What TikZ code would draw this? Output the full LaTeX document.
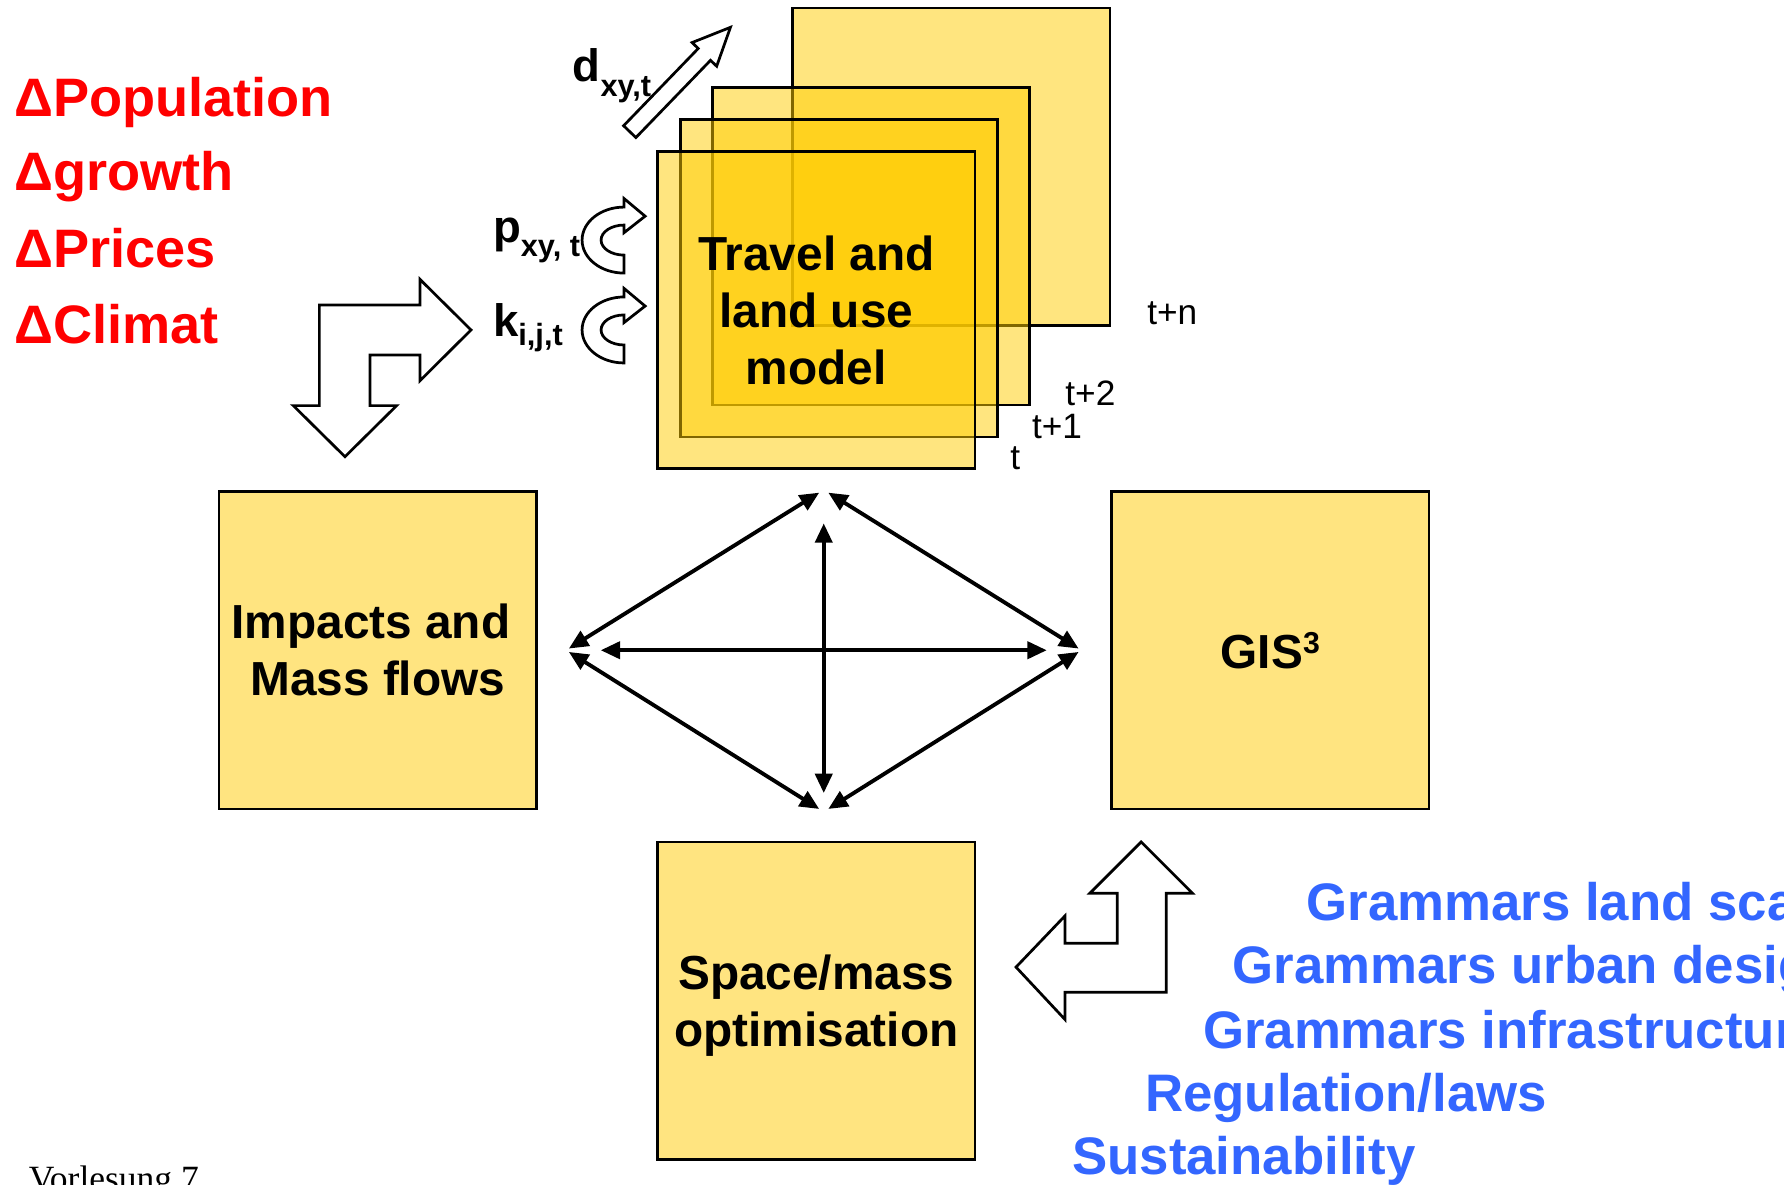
\documentclass[tikz,border=0pt]{standalone}
\usepackage{fontspec}
\setmainfont{Liberation Sans}
\newfontfamily\lectfont{Liberation Serif}
\usetikzlibrary{arrows.meta}

\definecolor{boxfill}{HTML}{FFE480}
\definecolor{layerfill}{HTML}{FFCC00}
\definecolor{driverred}{HTML}{FF0000}
\definecolor{rulesblue}{HTML}{3366FF}

\tikzset{
  panel/.style={draw=black, line width=1.2pt, minimum width=139.5pt,
    minimum height=139.5pt, inner sep=0pt, align=center,
    font=\fontsize{21}{25}\selectfont\bfseries},
  solidpanel/.style={panel, fill=boxfill},
  layer/.style={panel, fill=layerfill, fill opacity=0.5, text opacity=1},
  layertag/.style={anchor=base west, inner sep=0pt,
    font=\fontsize{15.5}{18}\selectfont},
  driver/.style={anchor=base west, inner sep=0pt, text=driverred,
    font=\fontsize{23.8}{28}\selectfont\bfseries},
  rule/.style={anchor=base west, inner sep=0pt, text=rulesblue,
    font=\fontsize{23.2}{28}\selectfont\bfseries},
  flowvar/.style={anchor=base west, inner sep=0pt,
    font=\fontsize{20}{24}\selectfont\bfseries},
  blockarrow/.style={draw=black, fill=white, line width=1.2pt, line join=miter},
  link/.style={line width=1.7pt,
    {Triangle[length=8.5pt,width=7.5pt]}-{Triangle[length=8.5pt,width=7.5pt]}}
}
\newcommand{\subtxt}[2]{\raisebox{-#1}{\fontsize{13.5}{16}\selectfont #2}}

\begin{document}
\begin{tikzpicture}[x=0.5pt,y=-0.5pt]
\useasboundingbox (0,0) rectangle (1568,1041);
\clip (0,0) rectangle (1568,1041);

% external drivers
\node[driver] (dpop)   at (12,102.5) {ΔPopulation};
\node[driver] (dgrow)  at (12,167.6) {Δgrowth};
\node[driver] (dprice) at (12,235.3) {ΔPrices};
\node[driver] (dclim)  at (12,302.3) {ΔClimat};

% bent block arrow between drivers, model and impacts
\draw[blockarrow] (280.7,268.1) -- (369.1,268.1) -- (369.1,245.5) -- (414,290)
  -- (369.1,334.6) -- (369.1,312) -- (325.2,312) -- (325.2,356.5)
  -- (348.6,356.5) -- (303.2,401.4) -- (257.8,356.5) -- (280.7,356.5) -- cycle;

% outgoing demand arrow
\draw[blockarrow] (548.1,110.5) -- (613.7,42.6) -- (608.3,37.4) -- (642,24)
  -- (629.9,58.2) -- (624.5,53.0) -- (558.9,120.9) -- cycle;
\node[flowvar] (dvar) at (503,72) {d\subtxt{6.5pt}{xy,t}};

% feedback loops into the model
\foreach \dy in {0,79}{
  \begin{scope}[shift={(0,\dy)}]
    \draw[blockarrow] (548.5,240) arc[start angle=90,end angle=270,x radius=36.9,y radius=29]
      -- (548.5,174.5) -- (567,190) -- (548.5,204.5) -- (548.5,197.8)
      arc[start angle=270,end angle=90,x radius=20.2,y radius=13.2] -- cycle;
  \end{scope}
}
\node[flowvar] (pvar) at (433,213) {p\subtxt{6pt}{xy, t}};
\node[flowvar] (kvar) at (433,296) {k\subtxt{4pt}{i,j,t}};

% stacked time layers of the model
\node[layer] (tn) at (836,146.5) {};
\node[layer] (t2) at (765.5,216.5) {};
\node[layer] (t1) at (737.5,244.5) {};
\node[layer] (t0) at (717.5,272.5) {Travel and\\land use\\model};
\node[layertag] (tagn) at (1008,285.6) {t+n};
\node[layertag] (tag2) at (936,356) {t+2};
\node[layertag] (tag1) at (906.7,385) {t+1};
\node[layertag] (tag0) at (887.7,413) {t};

% other modules
\node[solidpanel] (impacts) at (332,571.5) {Impacts and\hspace*{6pt}\\Mass flows};
\node[solidpanel] (gis) at (1116.5,571.5)
  {GIS\raisebox{6.6pt}{\fontsize{13.3}{14}\selectfont 3}};
\node[solidpanel, text depth=0pt] (space) at (717.5,879.5) {Space/mass\\optimisation};

% exchange network between the modules
\coordinate (topL) at (720,433);
\coordinate (topR) at (728,433);
\coordinate (leftU) at (500,570);
\coordinate (leftD) at (500,573);
\coordinate (rightU) at (948,570);
\coordinate (rightD) at (948,573);
\coordinate (botL) at (720,711);
\coordinate (botR) at (728,711);
\coordinate (hL) at (528,571.5);
\coordinate (hR) at (920,571.5);
\coordinate (vT) at (724,460);
\coordinate (vB) at (724,697);
\draw[link] (topL) -- (leftU);
\draw[link] (topR) -- (rightU);
\draw[link] (leftD) -- (botL);
\draw[link] (rightD) -- (botR);
\draw[link] (hL) -- (hR);
\draw[link] (vT) -- (vB);

% bent block arrow from the rules to optimisation and GIS
\draw[blockarrow] (1003,740) -- (1048,785) -- (1025,785) -- (1025,872)
  -- (936,872) -- (936,896) -- (893,850) -- (936,805) -- (936,829)
  -- (982,829) -- (982,785) -- (958,785) -- cycle;

% design rules
\node[rule] (gland)  at (1148,808.6) {Grammars land scape};
\node[rule] (gurban) at (1083,864.8) {Grammars urban design};
\node[rule] (ginfra) at (1057,921.4) {Grammars infrastructure};
\node[rule] (regul)  at (1006,977)   {Regulation/laws};
\node[rule] (sust)   at (942,1032.7) {Sustainability};

% footer
\node[anchor=base west, inner sep=0pt, font=\lectfont\fontsize{15.6}{18}\selectfont]
  (footer) at (25,1046) {Vorlesung 7};
\end{tikzpicture}
\end{document}
